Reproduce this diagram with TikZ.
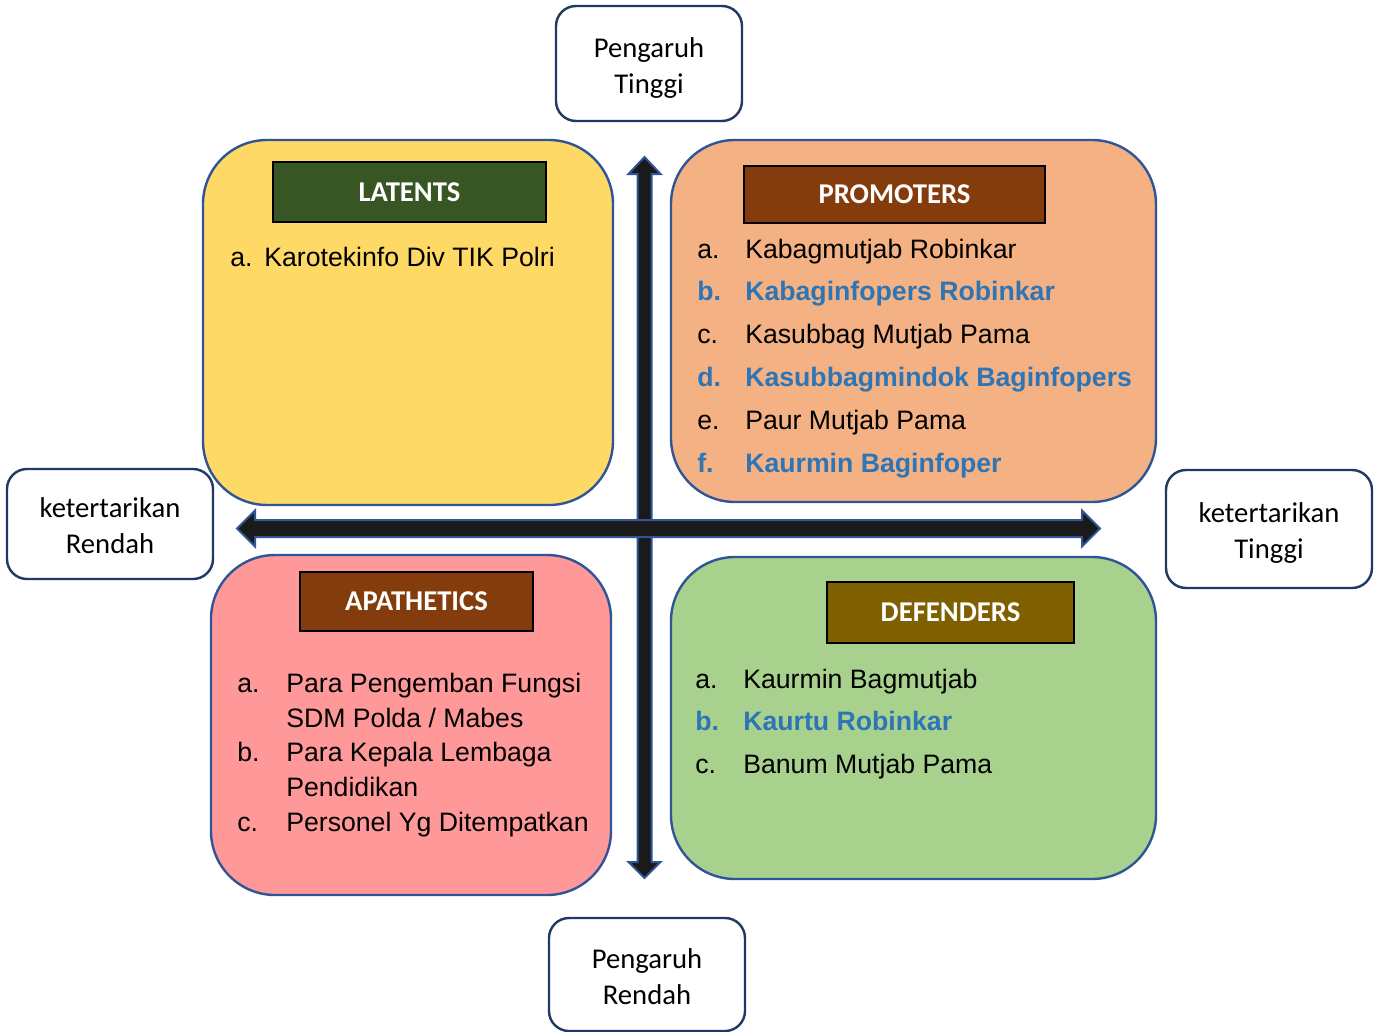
\documentclass[tikz,border=0pt]{standalone}
\usepackage{fontspec}
\setmainfont{Liberation Sans}
\newfontfamily\calibri{Carlito}
\usepackage{tikz}

\definecolor{quadblue}{HTML}{2F5597}
\definecolor{sidenavy}{HTML}{1F3864}
\definecolor{axisblack}{HTML}{1A1A1A}
\definecolor{itemblue}{HTML}{2E75B6}
\definecolor{latentyellow}{HTML}{FFD966}
\definecolor{promopeach}{HTML}{F4B183}
\definecolor{apathpink}{HTML}{FF9999}
\definecolor{defgreen}{HTML}{A9D18E}
\definecolor{latentgreen}{HTML}{375623}
\definecolor{titlebrown}{HTML}{843C0C}
\definecolor{defolive}{HTML}{7F6000}

\newcommand{\sidetext}[1]{\raisebox{0pt}[\dimexpr\height+7pt\relax][\depth]{\begin{tabular}{@{}c@{}}#1\end{tabular}}}

\begin{document}
\begin{tikzpicture}[x=0.75pt, y=-0.75pt]
        % Setup the styles for the boxes and the lists
        \tikzset{quad style/.style={rectangle,
                                    rounded corners=48pt,
                                    draw=quadblue,
                                    line width=1.8pt,
                                    inner sep=0pt},
                 title style/.style={rectangle,
                                     draw=black,
                                     line width=1.5pt,
                                     text=white,
                                     inner sep=0pt,
                                     font=\calibri\bfseries\fontsize{21.5}{26}\selectfont},
                 side style/.style={rectangle,
                                    rounded corners=15pt,
                                    draw=sidenavy,
                                    line width=1.8pt,
                                    fill=white,
                                    inner sep=0pt,
                                    font=\calibri\fontsize{21.5}{27}\selectfont},
                 axis style/.style={fill=axisblack,
                                    draw=quadblue,
                                    line width=1.5pt,
                                    line join=miter},
                 list item/.style={anchor=base west,
                                   inner sep=0pt,
                                   font=\fontsize{20}{24}\selectfont},
                 hl item/.style={list item,
                                 text=itemblue,
                                 font=\bfseries\fontsize{20}{24}\selectfont}}

        \useasboundingbox (0,0) rectangle (1379,1032);

        % Draw the quadrants
        \node[quad style, fill=latentyellow, minimum width=307.5pt, minimum height=273.75pt] at (408,322.5)   (latents)   {};
        \node[quad style, fill=promopeach,   minimum width=363.75pt, minimum height=271.5pt] at (913.5,321)  (promoters) {};
        \node[quad style, fill=apathpink,    minimum width=300pt,    minimum height=255pt]   at (411,725)    (apathetics) {};
        \node[quad style, fill=defgreen,     minimum width=363.75pt, minimum height=241.5pt] at (913.5,718)  (defenders) {};

        % Draw the titles
        \node[title style, fill=latentgreen, minimum width=204.75pt, minimum height=45pt]    at (409.5,192)   (latentsT)    {LATENTS};
        \node[title style, fill=titlebrown,  minimum width=225.75pt, minimum height=42.75pt] at (894.5,194.5) (promotersT)  {PROMOTERS};
        \node[title style, fill=titlebrown,  minimum width=174.75pt, minimum height=44.25pt] at (416.5,601.5) (apatheticsT) {APATHETICS};
        \node[title style, fill=defolive,    minimum width=185.25pt, minimum height=45.75pt] at (950.5,612.5) (defendersT)  {DEFENDERS};

        % Draw the lists
        \node[list item] at (230,266) (lat-a) {a.};
        \node[list item] at (264,266) (lat-1) {Karotekinfo Div TIK Polri};

        \foreach \lab/\txt/\sty [count=\i] in {a./Kabagmutjab Robinkar/list item,
                                               b./Kabaginfopers Robinkar/hl item,
                                               c./Kasubbag Mutjab Pama/list item,
                                               d./Kasubbagmindok Baginfopers/hl item,
                                               e./Paur Mutjab Pama/list item,
                                               f./Kaurmin Baginfoper/hl item}
        {
            \node[\sty] at (697,{258+42.8*(\i-1)}) (prom-l\i) {\lab};
            \node[\sty] at (745,{258+42.8*(\i-1)}) (prom-\i)  {\txt};
        }

        \node[list item] at (237,692) (apa-a) {a.};
        \node[list item] at (286,692) (apa-1) {Para Pengemban Fungsi};
        \node[list item] at (286,727) (apa-1b) {SDM Polda / Mabes};
        \node[list item] at (237,761) (apa-b) {b.};
        \node[list item] at (286,761) (apa-2) {Para Kepala Lembaga};
        \node[list item] at (286,796) (apa-2b) {Pendidikan};
        \node[list item] at (237,831) (apa-c) {c.};
        \node[list item] at (286,831) (apa-3) {Personel Yg Ditempatkan};

        \foreach \lab/\txt/\sty [count=\i] in {a./Kaurmin Bagmutjab/list item,
                                               b./Kaurtu Robinkar/hl item,
                                               c./Banum Mutjab Pama/list item}
        {
            \node[\sty] at (695,{688+42.7*(\i-1)}) (def-l\i) {\lab};
            \node[\sty] at (743,{688+42.7*(\i-1)}) (def-\i)  {\txt};
        }

        % Draw the axes
        \draw[axis style] (644.5,157) -- (660.5,174) -- (651.5,174) -- (651.5,862) -- (660.5,862)
            -- (644.5,878) -- (628.5,862) -- (637.5,862) -- (637.5,174) -- (628.5,174) -- cycle;
        \draw[axis style] (237,528.5) -- (255,510.5) -- (255,520) -- (1082,520) -- (1082,510.5)
            -- (1100,528.5) -- (1082,546.5) -- (1082,537) -- (255,537) -- (255,546.5) -- cycle;

        % Draw the axis labels
        \node[side style, minimum width=139.5pt, minimum height=86.25pt] at (649,63.5)  (inflHigh) {\sidetext{Pengaruh\\Tinggi}};
        \node[side style, minimum width=147pt,   minimum height=84.75pt] at (647,974.5) (inflLow)  {\sidetext{Pengaruh\\Rendah}};
        \node[side style, minimum width=154.5pt, minimum height=82.5pt]  at (110,524)   (intLow)   {\sidetext{ketertarikan\\Rendah}};
        \node[side style, minimum width=154.5pt, minimum height=88.5pt]  at (1269,529)  (intHigh)  {\sidetext{ketertarikan\\Tinggi}};
\end{tikzpicture}
\end{document}
